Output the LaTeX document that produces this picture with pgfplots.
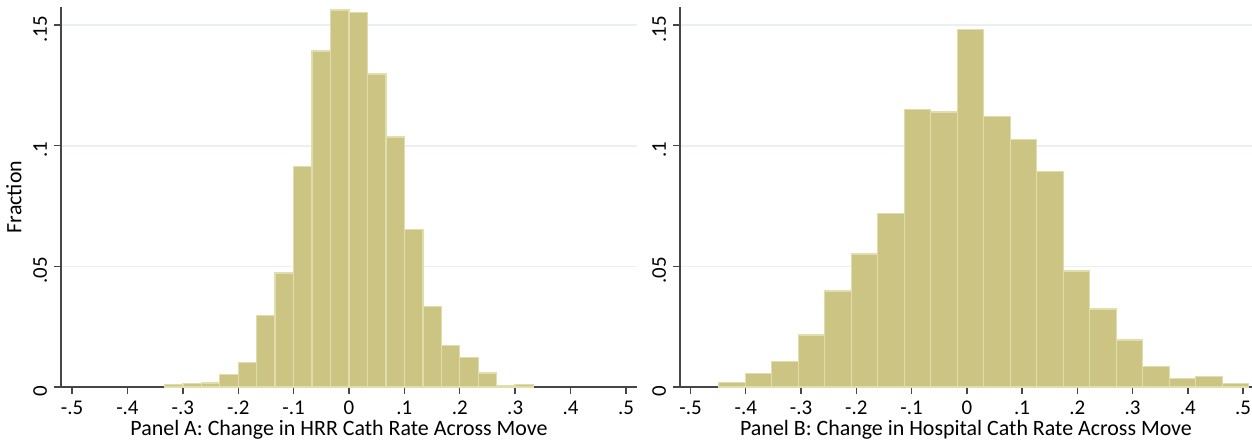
\documentclass[border=0pt]{standalone}
\usepackage{pgfplots}
\pgfplotsset{compat=1.18}
\usepackage{fontspec}
\setmainfont{Carlito}
\definecolor{khaki}{RGB}{203,196,130}
\definecolor{khakiedge}{RGB}{226,221,172}
\definecolor{gridc}{RGB}{232,240,242}
\definecolor{axc}{RGB}{70,70,70}
\pgfplotsset{
  hist/.style={
    scale only axis, width=288bp, height=190bp,
    xmin=-0.52, xmax=0.52, ymin=0, ymax=0.1575,
    axis x line*=bottom, axis y line*=left,
    axis line style={axc, line width=0.7bp},
    tick style={axc, line width=0.7bp},
    tick align=outside, major tick length=3.5bp,
    xtick={-0.5,-0.4,-0.3,-0.2,-0.1,0,0.1,0.2,0.3,0.4,0.5},
    xticklabels={-.5,-.4,-.3,-.2,-.1,0,.1,.2,.3,.4,.5},
    ytick={0,0.05,0.1,0.15},
    yticklabels={0,.05,.1,.15},
    ymajorgrids, major grid style={gridc, line width=0.8bp},
    ticklabel style={font=\fontsize{10.5}{12}\selectfont, text=black},
    yticklabel style={rotate=90, anchor=south, xshift=-2bp},
    xticklabel style={yshift=0bp},
    label style={font=\fontsize{11}{13}\selectfont},
    xlabel style={yshift=4bp},
    scaled ticks=false,
  }
}
\begin{document}
\begin{tikzpicture}
\begin{axis}[hist, at={(0,0)}, anchor=south west,
  ylabel={Fraction}, ylabel style={yshift=-1bp},
  xlabel={Panel A: Change in HRR Cath Rate Across Move},
  xlabel style={xshift=-5bp}]
\addplot[ybar interval, fill=khaki, draw=khakiedge, line width=0.7bp] coordinates {
(-0.33333,0.0010)
(-0.30000,0.0014)
(-0.26667,0.0017)
(-0.23333,0.0052)
(-0.20000,0.0101)
(-0.16667,0.0297)
(-0.13333,0.0472)
(-0.10000,0.0914)
(-0.06667,0.1392)
(-0.03333,0.1562)
(0.00000,0.1552)
(0.03333,0.1298)
(0.06667,0.1036)
(0.10000,0.0652)
(0.13333,0.0334)
(0.16667,0.0173)
(0.20000,0.0122)
(0.23333,0.0058)
(0.26667,0.0006)
(0.30000,0.0010)
(0.33333,0)
};
\end{axis}
\begin{axis}[hist, at={(309.5bp,0)}, anchor=south west, width=286bp,
  xmin=-0.519, xmax=0.516,
  xlabel={Panel B: Change in Hospital Cath Rate Across Move}]
\addplot[ybar interval, fill=khaki, draw=khakiedge, line width=0.7bp] coordinates {
(-0.4490,0.0018)
(-0.4010,0.0057)
(-0.3531,0.0106)
(-0.3051,0.0215)
(-0.2572,0.0398)
(-0.2092,0.0552)
(-0.1612,0.0720)
(-0.1133,0.1149)
(-0.0653,0.1140)
(-0.0174,0.1481)
(0.0306,0.1120)
(0.0786,0.1025)
(0.1265,0.0892)
(0.1745,0.0481)
(0.2224,0.0323)
(0.2704,0.0195)
(0.3184,0.0086)
(0.3663,0.0035)
(0.4143,0.0044)
(0.4622,0.0015)
(0.5102,0)
};
\end{axis}
\pgfresetboundingbox
\path[use as bounding box] (-30.5bp,-29bp) rectangle (595.5bp,193.5bp);
\end{tikzpicture}
\end{document}
